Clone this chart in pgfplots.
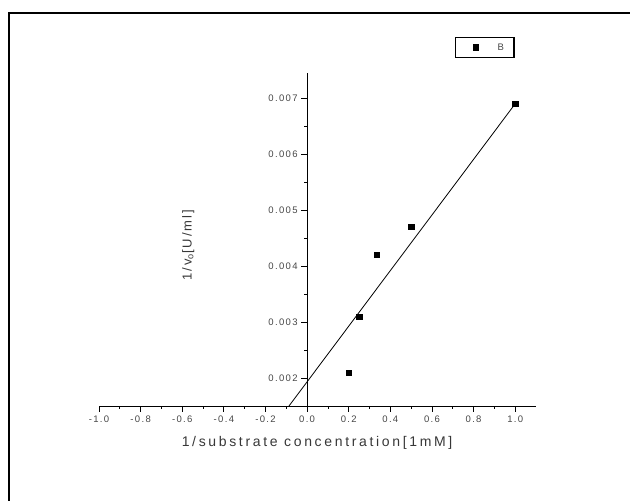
\documentclass[border=0pt]{standalone}
\usepackage{fontspec}
\setmainfont{Liberation Sans}
\newfontfamily\tickfont[LetterSpace=14]{Liberation Sans}
\newfontfamily\labfont[LetterSpace=15]{Liberation Sans}
\newfontfamily\xlabfont[LetterSpace=19]{Liberation Sans}
\usepackage{pgfplots}
\pgfplotsset{compat=1.18}
\definecolor{ticktext}{RGB}{70,70,70}
\definecolor{labtext}{RGB}{55,55,55}

\begin{document}
\begin{tikzpicture}[x=1pt,y=1pt]
\useasboundingbox (0,0) rectangle (630,501);
% outer frame (top and left edge only visible)
\draw[line width=2pt] (9,0) -- (9,488) -- (630,488);
\begin{axis}[
    at={(99pt,95pt)}, anchor=south west,
    scale only axis,
    width=437pt, height=333pt,
    xmin=-1.0, xmax=1.1,
    ymin=0.0015, ymax=0.00745,
    axis x line=bottom, axis y line=center,
    axis line style={-, line width=0.8pt},
    tick align=outside,
    xtick={-1,-0.8,-0.6,-0.4,-0.2,0,0.2,0.4,0.6,0.8,1},
    ytick={0.002,0.003,0.004,0.005,0.006,0.007},
    minor x tick num=1, minor y tick num=1,
    major tick length=6pt, minor tick length=3pt,
    tick style={black, line width=0.8pt},
    scaled y ticks=false,
    x tick label style={font=\tickfont\fontsize{9.5}{11}\selectfont, color=ticktext,
        /pgf/number format/.cd, fixed, fixed zerofill, precision=1, assume math mode=true},
    y tick label style={font=\tickfont\fontsize{9.5}{11}\selectfont, color=ticktext,
        /pgf/number format/.cd, fixed, fixed zerofill, precision=3, assume math mode=true},
    every axis x label/.style={at={(axis description cs:0.499,-0.111)}, anchor=center,
        font=\xlabfont\fontsize{14}{16}\selectfont, color=labtext},
    every axis y label/.style={at={(axis description cs:0.204,0.483)}, anchor=center, rotate=90,
        font=\labfont\fontsize{13}{15}\selectfont, color=labtext},
    xlabel={1/substrate concentration[1mM]},
    ylabel={1/v\textsubscript{o}[U/ml]},
    legend image code/.code={
        \path[draw=none] (0pt,0pt) -- (32pt,0pt);
        \draw[#1] plot coordinates {(12pt,0pt)};
    },
    legend style={at={(rel axis cs:0.883,1.0766)}, anchor=center, draw=black, line width=1.2pt,
        font=\tickfont\fontsize{9.5}{11}\selectfont, text=ticktext, inner xsep=8pt, inner ysep=4pt},
    clip=false,
]
\addplot[only marks, mark=square*, mark size=2.6pt, black] coordinates {
    (0.2,0.0021) (0.25,0.0031) (0.333,0.0042) (0.5,0.0047) (1.0,0.0069)
};
\addlegendentry{B}
\addplot[black, line width=0.8pt, forget plot] coordinates {
    (-0.087,0.0015) (1.0,0.0069)
};
\end{axis}
\end{tikzpicture}
\end{document}
